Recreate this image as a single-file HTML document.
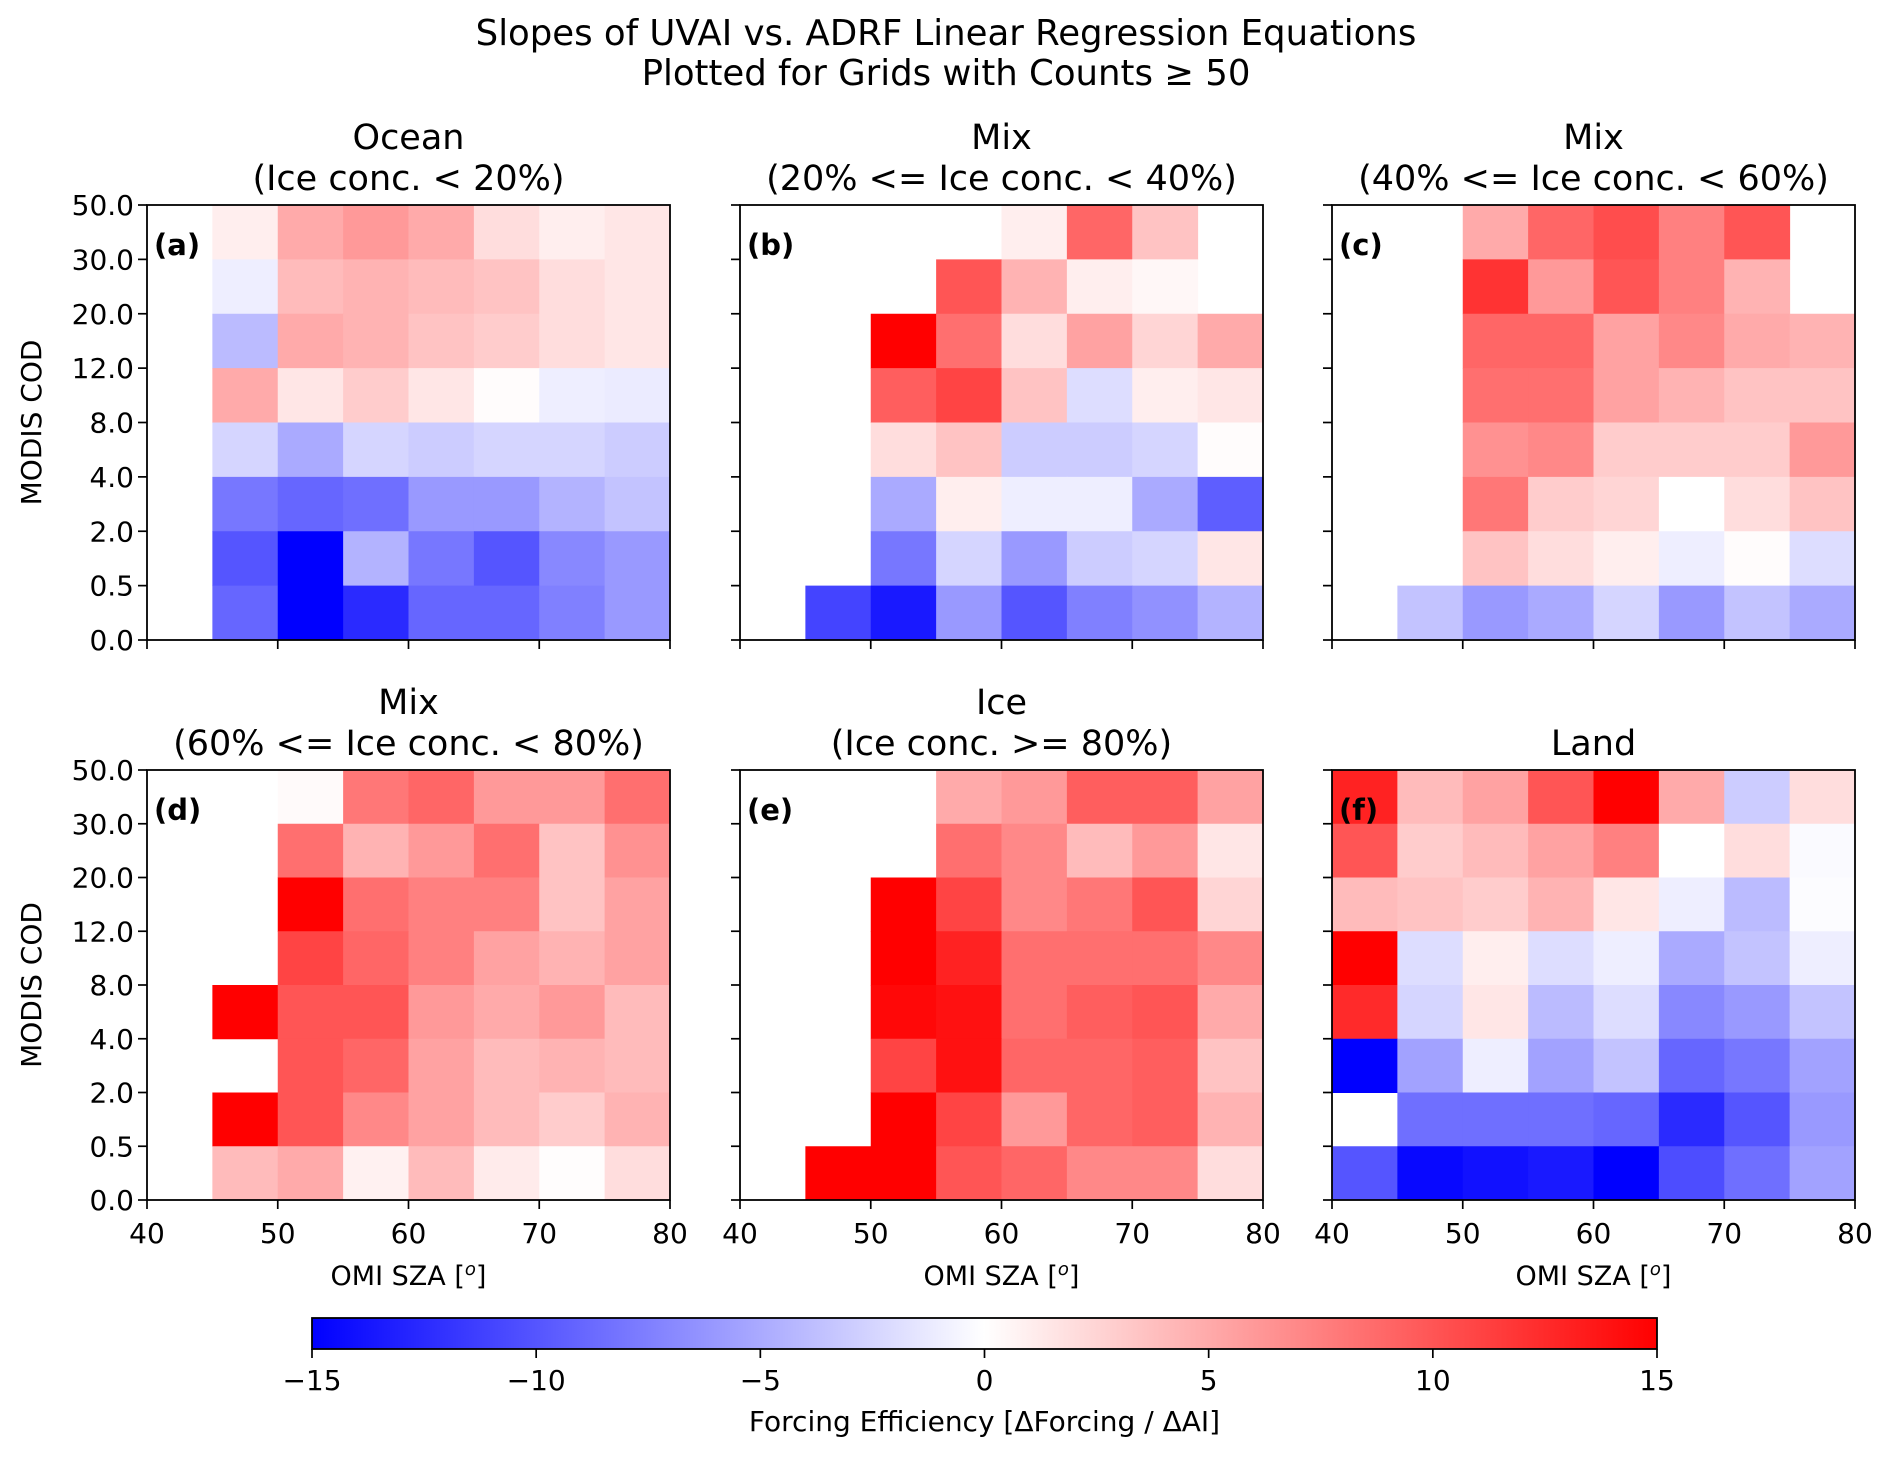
<!DOCTYPE html>
<html><head><meta charset="utf-8"><style>
html,body{margin:0;padding:0;background:#fff;}
svg{display:block;font-family:"DejaVu Sans","Liberation Sans",sans-serif;}
</style></head><body>
<svg id="fig" width="1892" height="1457" viewBox="0 0 1892 1457" xmlns="http://www.w3.org/2000/svg">
<text x="946" y="45" font-size="35.5" text-anchor="middle">Slopes of UVAI vs. ADRF Linear Regression Equations</text>
<text x="946" y="85" font-size="35.5" text-anchor="middle">Plotted for Grids with Counts ≥  50</text>
</svg>
<script>
const yTickLabels = ["0.0","0.5","2.0","4.0","8.0","12.0","20.0","30.0","50.0"];
const xTicks = [40,50,60,70,80];
const xBinStarts = [40,45,50,55,60,65,70,75];
const cbTicks = [-15,-10,-5,0,5,10,15];
const panelLetters = ["(a)","(b)","(c)","(d)","(e)","(f)"];
const panelTitles = [["Ocean","(Ice conc. < 20%)"],["Mix","(20% <= Ice conc. < 40%)"],["Mix","(40% <= Ice conc. < 60%)"],["Mix","(60% <= Ice conc. < 80%)"],["Ice","(Ice conc. >= 80%)"],["Land"]];
const N=null;
// rows listed top (30-50) to bottom (0-0.5)
const dataA = [
[N,1,5,6,5,2,1,1.5],
[N,-1,4,4.5,4,3.5,2,1.5],
[N,-4,5,4.5,3.5,3,2,1.5],
[N,5,1.5,3,1.5,0.2,-1,-1.2],
[N,-2.5,-5,-2.5,-3,-2.5,-2.5,-3],
[N,-8,-9,-8.5,-6,-6,-4.5,-3.5],
[N,-10,-15,-4.5,-8,-10,-7,-6],
[N,-9,-15,-12.5,-9,-9,-7.5,-6]];
const dataB = [
[N,N,N,N,1,9,3.5,N],
[N,N,N,10,4.5,1,0.5,N],
[N,N,15,8.5,2,5.5,2.5,5],
[N,N,9.5,11,3.5,-2,1,1.5],
[N,N,2,3.5,-3,-3,-2.5,0.2],
[N,N,-5,1,-1,-1,-5,-9.5],
[N,N,-8,-2.5,-6,-3,-2.5,1.5],
[N,-11,-13.5,-6,-10,-7.5,-6.5,-4.5]];
const dataC = [
[N,N,5,9,10.5,7.5,10,N],
[N,N,12,6,10,7.5,4.5,N],
[N,N,9,9,5.5,7,5,4.5],
[N,N,8.5,8.5,5.5,4.5,3.5,3.5],
[N,N,6.5,7,3,3,3,6],
[N,N,8,3,2.5,0,2,3.5],
[N,N,3.5,2,1,-1,0.2,-2],
[N,-3.5,-6,-5,-2.5,-6,-3.5,-5]];
const dataD = [
[N,N,0.3,8,9,6,6,8.5],
[N,N,8.5,4.5,6,8.5,3.5,6.5],
[N,N,15,8.5,7.5,7.5,3.5,5.5],
[N,N,11,9,7.5,5.5,4.5,5.5],
[N,15,10,10,6,5,6,4],
[N,N,10,9,5.5,4,4.5,4],
[N,15,10,7,5.5,4,3,4.5],
[N,4,5,0.8,4,1.2,0.1,2]];
const dataE = [
[N,N,N,5,6,9.5,9.5,5.5],
[N,N,N,8.5,7,4,6,1.5],
[N,N,15,11,7,8,10,2.5],
[N,N,15,13,8.5,8.5,8.5,7],
[N,N,14.5,14,8.5,9.5,10,5],
[N,N,11,14,9,9,9.5,3.5],
[N,N,15,11,6,9,9.5,4.5],
[N,15,15,10,9,7,7,2]];
const dataF = [
[13,4,5.5,10,15,5,-3,2],
[10,3,4,5.5,7.5,0,2,-0.3],
[4,3.5,3,4.5,1.5,-1,-4,-0.2],
[15,-2,1,-2,-1,-5,-3.5,-1],
[12.5,-2.5,1.5,-4,-2,-7,-6,-3.5],
[-15,-5.5,-1,-5.5,-3.5,-9,-8,-5.5],
[N,-8.5,-8.5,-8.5,-9,-12.5,-10,-6],
[-10,-14.5,-14,-13.5,-15,-10.5,-8.5,-5.5]];
const allData=[dataA,dataB,dataC,dataD,dataE,dataF];

const NS="http://www.w3.org/2000/svg";
const svg=document.getElementById('fig');
function mk(tag,attrs,parent){const e=document.createElementNS(NS,tag);for(const k in attrs)e.setAttribute(k,attrs[k]);(parent||svg).appendChild(e);return e;}
function bwr(v){let t=Math.max(-1,Math.min(1,v/15));let r,g,b;if(t<0){r=g=Math.round(255*(1+t));b=255;}else{r=255;g=b=Math.round(255*(1-t));}return `rgb(${r},${g},${b})`;}

const colX=[147,740,1332], rowY=[[205,640],[770,1200]], W=523;
for(let p=0;p<6;p++){
  const c=p%3,r=Math.floor(p/3);
  const x0=colX[c],y0=rowY[r][0],y1=rowY[r][1],H=y1-y0;
  const xs=v=>x0+(v-40)/40*W;
  const ys=i=>y1-i/8*H;
  const g=mk('g',{});
  
  
  const d=allData[p];
  for(let ri=0;ri<8;ri++){for(let ci=0;ci<8;ci++){const v=d[ri][ci];if(v===null)continue;
    const bin=7-ri;
    const rc=mk('rect',{x:xs(xBinStarts[ci]),y:ys(bin+1),width:xs(xBinStarts[ci]+5)-xs(xBinStarts[ci])+0.5,height:ys(bin)-ys(bin+1)+0.5,fill:bwr(v)},g);
    
    
  }}
  const fr=mk('rect',{x:x0,y:y0,width:W,height:H,fill:'none',stroke:'#000','stroke-width':1.8},g);
  
  
  xTicks.forEach(t=>{mk('line',{x1:xs(t),x2:xs(t),y1:y1,y2:y1+9,stroke:'#000','stroke-width':1.7},g);
    if(r===1){const tx=mk('text',{x:xs(t),y:y1+43,'font-size':28,'text-anchor':'middle'},g);tx.textContent=t;
      
      }});
  yTickLabels.forEach((l,i)=>{mk('line',{x1:x0-9,x2:x0,y1:ys(i),y2:ys(i),stroke:'#000','stroke-width':1.7},g);
    if(c===0){const tx=mk('text',{x:x0-13,y:ys(i)+10,'font-size':28,'text-anchor':'end'},g);tx.textContent=l;
      
      }});
  const lt=mk('text',{x:x0+7,y:y0+50,'font-size':29,'font-weight':'bold'},g);lt.textContent=panelLetters[p];
  
  
  const tl=panelTitles[p];
  tl.forEach((s,k)=>{const ty=y0-15-(tl.length-1-k)*41;const t=mk('text',{x:x0+W/2,y:ty,'font-size':35,'text-anchor':'middle'},g);t.textContent=s;
    
    });
  if(c===0){const yl=mk('text',{x:0,y:0,'font-size':28,'text-anchor':'middle',transform:`translate(41,${(y0+y1)/2}) rotate(-90)`},g);yl.textContent='MODIS COD';
    
    }
  if(r===1){const xl=mk('text',{x:x0+W/2,y:1285,'font-size':27,'text-anchor':'middle'},g);
    xl.innerHTML='OMI SZA [<tspan font-style="italic" font-size="18" dy="-10">o</tspan><tspan dy="10">]</tspan>';
    
    }
}
// colorbar
const cbx0=312,cbx1=1657,cby0=1318,cby1=1349;
const defs=mk('defs',{});const lg=mk('linearGradient',{id:'cbg',x1:0,x2:1,y1:0,y2:0},defs);
mk('stop',{offset:0,'stop-color':'#0000ff'},lg);mk('stop',{offset:0.5,'stop-color':'#ffffff'},lg);mk('stop',{offset:1,'stop-color':'#ff0000'},lg);
const cb=mk('rect',{x:cbx0,y:cby0,width:cbx1-cbx0,height:cby1-cby0,fill:'url(#cbg)',stroke:'#000','stroke-width':1.8});


const cs=v=>cbx0+(v+15)/30*(cbx1-cbx0);
cbTicks.forEach(t=>{mk('line',{x1:cs(t),x2:cs(t),y1:cby1,y2:cby1+9,stroke:'#000','stroke-width':1.7});
  const tx=mk('text',{x:cs(t),y:1390,'font-size':28,'text-anchor':'middle'});tx.textContent=(t<0?'\u2212'+(-t):String(t));
  
  });
const cl=mk('text',{x:(cbx0+cbx1)/2,y:1431,'font-size':28,'text-anchor':'middle'});cl.textContent='Forcing Efficiency [ΔForcing / ΔAI]';


</script>
</body></html>
